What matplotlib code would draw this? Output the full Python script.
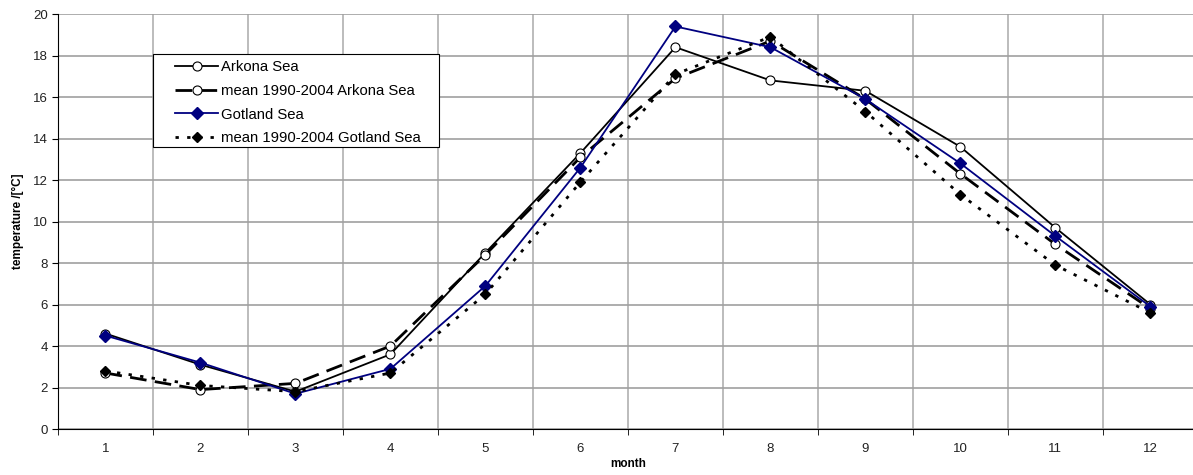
import matplotlib.pyplot as plt
from matplotlib.patches import Rectangle
from matplotlib.ticker import MultipleLocator, FixedLocator

plt.rcParams['font.family'] = ['Liberation Sans', 'DejaVu Sans']

months = list(range(1, 13))
arkona = [4.6, 3.1, 1.8, 3.6, 8.5, 13.3, 18.4, 16.8, 16.3, 13.6, 9.7, 6.0]
arkona_mean = [2.7, 1.9, 2.2, 4.0, 8.4, 13.1, 16.9, 18.7, 15.9, 12.3, 8.9, 5.8]
gotland = [4.5, 3.2, 1.7, 2.9, 6.9, 12.6, 19.4, 18.4, 15.9, 12.8, 9.3, 5.9]
gotland_mean = [2.8, 2.1, 1.8, 2.7, 6.5, 11.9, 17.1, 18.9, 15.3, 11.3, 7.9, 5.6]

fig = plt.figure(figsize=(11.93, 4.75), dpi=100)
ax = fig.add_axes([0.0486, 0.0968, 0.9555, 0.8737])

ax.plot(months, arkona, color='black', lw=1.3, marker='o', ms=6.5,
        mfc='white', mec='black', mew=0.8, label='Arkona Sea', zorder=3)
ax.plot(months, arkona_mean, color='black', lw=2.0, ls=(0, (6, 3)), marker='o', ms=6.5,
        mfc='white', mec='black', mew=0.8, label='mean 1990-2004 Arkona Sea', zorder=3)
ax.plot(months, gotland, color='#000080', lw=1.3, marker='D', ms=6,
        mfc='#000080', mec='#000080', label='Gotland Sea', zorder=4)
ax.plot(months, gotland_mean, color='black', lw=2.0, ls=(0, (1.2, 3)), marker='D', ms=5,
        mfc='black', mec='black', label='mean 1990-2004 Gotland Sea', zorder=4)

# legend box like the Excel one
ax.add_patch(Rectangle((153 / 1193, 1 - 147 / 475), 286 / 1193, 93 / 475,
                       transform=fig.transFigure, facecolor='white',
                       edgecolor='black', lw=0.8, zorder=5))

ax.set_xlim(0.5, 12.5)
ax.set_ylim(0, 20)
ax.yaxis.set_major_locator(MultipleLocator(2))
ax.xaxis.set_major_locator(FixedLocator(months))
ax.xaxis.set_minor_locator(FixedLocator([m + 0.5 for m in range(0, 12)]))
ax.tick_params(axis='x', which='major', length=0, pad=10, labelsize=9.5)
ax.tick_params(axis='x', which='minor', length=4, direction='out', color='black')
ax.tick_params(axis='y', length=4, direction='out', labelsize=9.5)
ax.tick_params(axis='both', labelcolor='#222222')

ax.grid(True, axis='y', which='major', color='#a0a0a0', lw=1.2)
ax.grid(True, axis='x', which='minor', color='#b0b0b0', lw=1.2)
ax.set_axisbelow(True)

for s in ['top', 'right']:
    ax.spines[s].set_visible(False)

ax.set_xlabel('month', fontsize=8.5, fontweight='bold', labelpad=2)
ax.set_ylabel('temperature /[°C]', fontsize=8.5, fontweight='bold', labelpad=6)

leg = ax.legend(loc='upper left', bbox_to_anchor=(0.1029, 0.888), fontsize=10.7,
                frameon=False, handlelength=2.9, borderpad=0, borderaxespad=0,
                labelspacing=0.64, handletextpad=0.2)
leg.set_zorder(6)

fig.savefig('out.png', dpi=100)
